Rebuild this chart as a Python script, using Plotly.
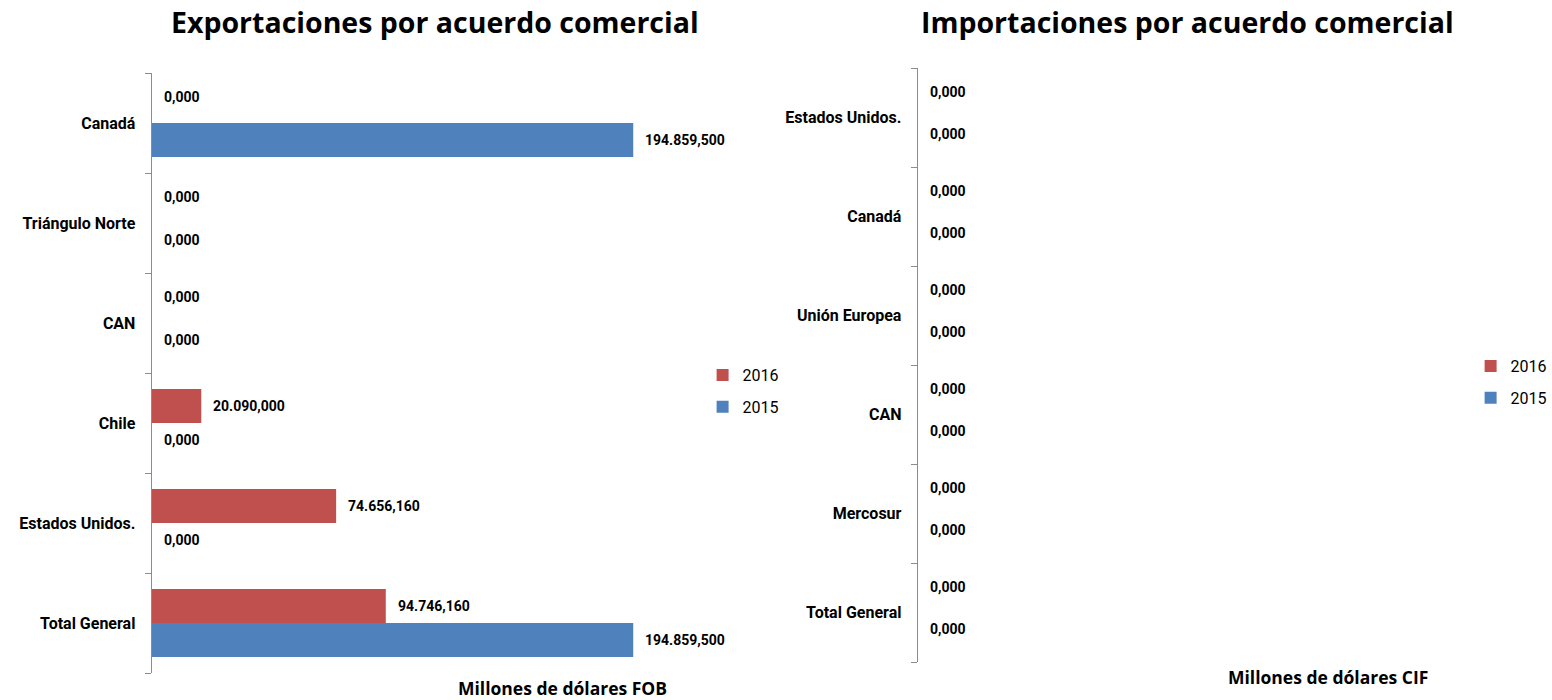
import plotly.graph_objects as go

# Export data (thousands of USD FOB), categories listed bottom to top
exp_categories = ["Total General", "Estados Unidos.", "Chile", "CAN", "Triángulo Norte", "Canadá"]
exp_2015 = [194859.5, 0.0, 0.0, 0.0, 0.0, 194859.5]
exp_2016 = [94746.16, 74656.16, 20090.0, 0.0, 0.0, 0.0]

# Import data (thousands of USD CIF), categories listed bottom to top
imp_categories = ["Total General", "Mercosur", "CAN", "Unión Europea", "Canadá", "Estados Unidos."]
imp_2015 = [0.0, 0.0, 0.0, 0.0, 0.0, 0.0]
imp_2016 = [0.0, 0.0, 0.0, 0.0, 0.0, 0.0]

years = ["2015", "2016"]
colors = {"2015": "#4F81BD", "2016": "#C0504D"}
legend_rank = {"2016": 1, "2015": 2}

W, H = 1552, 700
BARGAP = 0.32
VALUE_FONT = dict(family="Roboto, Arial, sans-serif", size=14, color="#000000", weight="bold")
CAT_FONT = dict(family="Roboto, Arial, sans-serif", size=16, color="#000000", weight="bold")
TITLE_FONT = dict(family="Open Sans, Calibri, sans-serif", size=28.5, color="#000000", weight="bold")
AXIS_TITLE_FONT = dict(family="Open Sans, Calibri, sans-serif", size=17.5, color="#000000", weight="bold")
LEGEND_FONT = dict(family="Roboto, Arial, sans-serif", size=16, color="#000000")


def fmt(v):
    s = f"{v:,.3f}"
    return s.replace(",", "#").replace(".", ",").replace("#", ".")


def px_dom(a, b):
    return [a / W, b / W]


def py_dom(top, bottom):
    return [1 - bottom / H, 1 - top / H]


# plot areas (pixels)
L = dict(x0=153, x1=700, top=73, bottom=673)
R = dict(x0=926, x1=1450, top=68, bottom=662)

fig = go.Figure()

panels = [
    ("x", "y", "legend", exp_categories, {"2015": exp_2015, "2016": exp_2016}, L),
    ("x2", "y2", "legend2", imp_categories, {"2015": imp_2015, "2016": imp_2016}, R),
]

annotations = []
for xa, ya, leg, cats, series, box in panels:
    cat_px = (box["bottom"] - box["top"]) / len(cats)
    bar_px = cat_px * (1 - BARGAP) / 2
    for yr in years:
        vals = series[yr]
        fig.add_trace(go.Bar(
            y=cats, x=vals, name=yr, orientation="h",
            marker=dict(color=colors[yr], line=dict(width=0)),
            xaxis=xa, yaxis=ya, legend=leg, legendgroup=f"{leg}-{yr}",
            legendrank=legend_rank[yr], hoverinfo="skip",
        ))
        # vertical offset of this bar relative to the category centre
        off = bar_px / 2 if yr == "2016" else -bar_px / 2
        for c, v in zip(cats, vals):
            extra = 9 if (yr == "2016" and v == 0) else 0
            annotations.append(dict(
                x=v, y=c, xref=xa, yref=ya, text=fmt(v), showarrow=False,
                xanchor="left", yanchor="middle", xshift=10, yshift=off + extra,
                font=VALUE_FONT,
            ))

exp_max = max(exp_2015 + exp_2016)
left_range = exp_max * (L["x1"] - L["x0"]) / 486.0

axis_common = dict(showline=True, linecolor="#8C8C8C", linewidth=1, ticks="outside",
                   tickson="boundaries", ticklen=6, tickcolor="#8C8C8C", tickwidth=1,
                   showgrid=False, zeroline=False, tickfont=CAT_FONT, type="category",
                   fixedrange=True, ticklabelstandoff=12)

legend_common = dict(xanchor="left", yanchor="top", traceorder="grouped", tracegroupgap=8,
                     bgcolor="rgba(0,0,0,0)", font=LEGEND_FONT, itemwidth=30)

fig.update_layout(
    width=W, height=H,
    margin=dict(l=0, r=0, t=0, b=0),
    paper_bgcolor="white", plot_bgcolor="white",
    barmode="group", bargap=BARGAP, bargroupgap=0,
    showlegend=True,
    xaxis=dict(domain=px_dom(L["x0"], L["x1"]), range=[0, left_range], visible=False,
               anchor="y"),
    yaxis=dict(domain=py_dom(L["top"], L["bottom"]), anchor="x", **axis_common),
    xaxis2=dict(domain=px_dom(R["x0"], R["x1"]), range=[0, 1], visible=False, anchor="y2"),
    yaxis2=dict(domain=py_dom(R["top"], R["bottom"]), anchor="x2", **axis_common),
    legend=dict(x=709 / W, y=1 - 358 / H, **legend_common),
    legend2=dict(x=1484 / W, y=1 - 349 / H, **legend_common),
)

annotations += [
    dict(text="Exportaciones por acuerdo comercial", x=439 / W, y=1 - 22 / H, xref="paper",
         yref="paper", showarrow=False, xanchor="center", yanchor="middle", font=TITLE_FONT),
    dict(text="Importaciones por acuerdo comercial", x=1198 / W, y=1 - 22 / H, xref="paper",
         yref="paper", showarrow=False, xanchor="center", yanchor="middle", font=TITLE_FONT),
    dict(text="Millones de dólares FOB", x=568 / W, y=1 - 688 / H, xref="paper", yref="paper",
         showarrow=False, xanchor="center", yanchor="middle", font=AXIS_TITLE_FONT),
    dict(text="Millones de dólares CIF", x=1340 / W, y=1 - 677 / H, xref="paper", yref="paper",
         showarrow=False, xanchor="center", yanchor="middle", font=AXIS_TITLE_FONT),
]
fig.update_layout(annotations=annotations)

fig.write_html("out.html")
